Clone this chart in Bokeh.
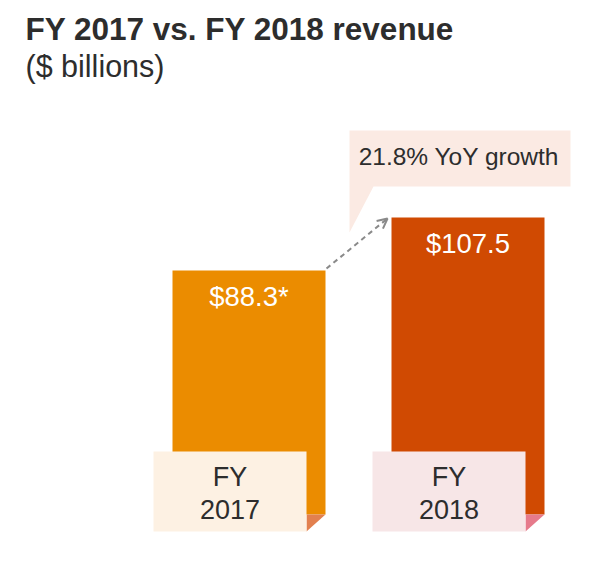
from bokeh.plotting import figure
from bokeh.models import Range1d, Arrow, OpenHead
from bokeh.core.properties import value
from bokeh.embed import file_html
from bokeh.resources import INLINE

# ---- data ----
title = "FY 2017 vs. FY 2018 revenue"
subtitle = "($ billions)"
years = ["FY\n2017", "FY\n2018"]
revenue = [88.3, 107.5]
value_labels = ["$88.3*", "$107.5"]
growth_label = "21.8% YoY growth"

# ---- styles ----
bar_colors = ["#EB8C00", "#D04A02"]
box_colors = ["#FDF1E3", "#F7E6E7"]
fold_colors = ["#E2804F", "#E67A8B"]
callout_color = "#FBEAE3"
text_color = "#2D2D2D"
FONT = value("Liberation Sans")

W, H = 614, 562
# pixel geometry helpers (layout only)
X0PIX, XSTEP = 248.5, 219.0      # centre of first category, px between categories
BASEPIX, YSCALE = 514.0, 2.763   # baseline pixel, px per $bn
TXT = 9                          # text baseline correction, px

def px(xp):
    return (xp - X0PIX) / XSTEP

def py(yp):
    return (BASEPIX - yp) / YSCALE

def dx(d):
    return d / XSTEP

def dy(d):
    return d / YSCALE

p = figure(width=W, height=H, output_backend="svg", toolbar_location=None,
           x_range=Range1d(px(0), px(W)), y_range=Range1d(py(H), py(0)),
           x_axis_location=None, y_axis_location=None, min_border=0,
           background_fill_color="white", border_fill_color="white")
p.grid.visible = False
p.outline_line_color = None

xs = list(range(len(revenue)))
bw = dx(153)

# callout box with tail
cx1 = xs[1] - bw / 2 - dx(42)
cx2 = cx1 + dx(221)
cy_top = revenue[1] + dy(87)
cy_bot = revenue[1] + dy(31)
tail_tip = revenue[1] - dy(15)
p.patch(x=[cx1, cx2, cx2, cx1 + dx(24), cx1],
        y=[cy_top, cy_top, cy_bot, cy_bot, tail_tip],
        fill_color=callout_color, line_color=None)
p.text(x=[(cx1 + cx2) / 2 - dx(1)], y=[(cy_top + cy_bot) / 2 - dy(8) + dy(10)], text=[growth_label],
       text_font=FONT, text_font_size="24.5px", text_color=text_color,
       text_align="center", text_baseline="alphabetic")

# bars
p.vbar(x=xs, width=bw, top=revenue, bottom=0, fill_color=bar_colors, line_color=None)

# value labels in bars
p.text(x=xs, y=[v - dy(35) + dy(TXT) for v in revenue], text=value_labels,
       text_font=FONT, text_font_size="27.5px", text_color="white",
       text_align="center", text_baseline="alphabetic")

# folded corners
shift = dx(19)
fx, fy = [], []
for x in xs:
    r = x + bw / 2
    fx.append([r - shift, r, r - shift])
    fy.append([0, 0, -dy(17)])
p.patches(xs=fx, ys=fy, fill_color=fold_colors, line_color=None)

# category label boxes
p.quad(left=[x - bw / 2 - shift for x in xs], right=[x + bw / 2 - shift for x in xs],
       bottom=-dy(17), top=dy(63), fill_color=box_colors, line_color=None)
for x, lab in zip(xs, years):
    l1, l2 = lab.split("\n")
    p.text(x=[x - shift, x - shift], y=[dy(514 - 485 + TXT), dy(514 - 518 + TXT)], text=[l1, l2],
           text_font=FONT, text_font_size="27px", text_color=text_color,
           text_align="center", text_baseline="alphabetic")

# dashed growth arrow
p.add_layout(Arrow(end=OpenHead(size=10, line_color="#8A8A8A", line_width=2),
                   x_start=xs[0] + bw / 2 + dx(1), y_start=revenue[0] + dy(2),
                   x_end=xs[1] - bw / 2 - dx(4), y_end=revenue[1] - dy(1),
                   line_color="#8A8A8A", line_width=2, line_dash="5 4"))

# titles
p.text(x=[px(25)], y=[py(40 - 12)], text=[title], text_font=FONT, text_font_size="31.5px",
       text_font_style="bold", text_color=text_color, text_align="left",
       text_baseline="alphabetic")
p.text(x=[px(25)], y=[py(77 - 12)], text=[subtitle], text_font=FONT, text_font_size="30.5px",
       text_color=text_color, text_align="left", text_baseline="alphabetic")

open("out.html", "w").write(file_html(p, INLINE))
